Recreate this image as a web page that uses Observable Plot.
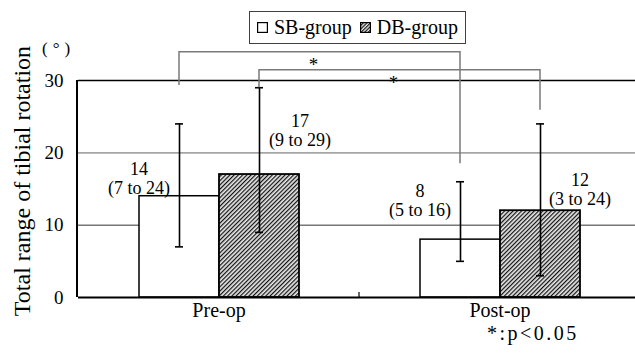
<!DOCTYPE html>
<html><head><meta charset="utf-8">
<script src="https://cdn.jsdelivr.net/npm/d3@7"></script>
<script src="https://cdn.jsdelivr.net/npm/@observablehq/plot@0.6"></script>
<style>
body{margin:0;background:#fff;font-family:'Liberation Serif','Times New Roman',Tinos,'DejaVu Serif',serif;color:#000;}
#wrap{position:relative;width:635px;height:354px;overflow:hidden;}
#wrap svg.plot{position:absolute;left:0;top:0;}
.ov{position:absolute;white-space:nowrap;font-family:'Liberation Serif','Times New Roman',Tinos,'DejaVu Serif',serif;}
#ylab{left:-138px;top:169px;width:320px;height:24px;line-height:24px;font-size:24px;text-align:center;transform:rotate(-90deg);}
#unit{left:42px;top:39px;font-size:17px;letter-spacing:5px;}
#legend{left:249px;top:11px;width:215px;height:31px;border:1.5px solid #404040;display:flex;align-items:center;font-size:20px;background:#fff;}
#legend .sw{display:inline-block;width:11px;height:11px;margin:0 6px 0 7px;}
#foot{left:487px;top:322px;font-size:20px;letter-spacing:2.5px;}
</style></head><body><div id="wrap"></div>
<script>
// ---- data ----
const categories = ["Pre-op", "Post-op"];
const groups = ["SB-group", "DB-group"];
const sbMedian = [14, 8];
const sbLow = [7, 5];
const sbHigh = [24, 16];
const dbMedian = [17, 12];
const dbLow = [9, 3];
const dbHigh = [29, 24];
const yTicks = [0, 10, 20, 30];
// significance brackets (data units)
const brackets = [
  {from: ["Pre-op", "SB-group"], to: ["Post-op", "SB-group"], top: 33.9, leftEnd: 29.3, rightEnd: 18.5, mark: "*"},
  {from: ["Pre-op", "DB-group"], to: ["Post-op", "DB-group"], top: 31.4, leftEnd: 29, rightEnd: 25.9, mark: "*"}
];
const footnote = "*:p<0.05";
const yTitle = "Total range of tibial rotation";
const unitText = "(°)";

const FONT = "'Liberation Serif','Times New Roman',Tinos,'DejaVu Serif',serif";

// ---- layout (pixel offsets for value labels) ----
const labelLayout = [
  {dx: -40.5, dy: -18},
  {dx: 40.5, dy: -44},
  {dx: -40.5, dy: -39},
  {dx: 39.5, dy: -21}
];

const rows = [];
categories.forEach((c, i) => {
  rows.push({cat: c, grp: groups[0], med: sbMedian[i], lo: sbLow[i], hi: sbHigh[i]});
  rows.push({cat: c, grp: groups[1], med: dbMedian[i], lo: dbLow[i], hi: dbHigh[i]});
});

const labelMarks = rows.map((r, i) => Plot.text([r], {
  fx: "cat", x: "grp", y: "med",
  text: d => `${d.med}\n(${d.lo} to ${d.hi})`,
  dx: labelLayout[i].dx, dy: labelLayout[i].dy,
  lineAnchor: "middle", lineHeight: 1.07, fontSize: 18, fill: "#000"
}));

const plot = Plot.plot({
  width: 635, height: 354,
  marginLeft: 77, marginRight: -5, marginTop: 80, marginBottom: 57,
  style: {fontFamily: FONT, fontSize: "19px", color: "#000", background: "transparent", overflow: "visible"},
  fx: {domain: categories, padding: 0, label: null},
  x: {domain: groups, paddingInner: 0, paddingOuter: 0.735, axis: null},
  y: {domain: [0, 30]},
  marks: [
    Plot.ruleY([10], {stroke: "#333", strokeWidth: 1}),
    Plot.ruleY([20], {stroke: "#a6a6a6", strokeWidth: 1.6}),
    Plot.ruleY([30], {stroke: "#000", strokeWidth: 1.4}),
    Plot.barY(rows.filter(d => d.grp === groups[0]), {fx: "cat", x: "grp", y: "med", fill: "#fff", stroke: "#000", strokeWidth: 1.5}),
    Plot.barY(rows.filter(d => d.grp === groups[1]), {fx: "cat", x: "grp", y: "med", fill: "url(#hatch)", stroke: "#000", strokeWidth: 1.8}),
    Plot.ruleX(rows, {fx: "cat", x: "grp", y1: "lo", y2: "hi", stroke: "#000", strokeWidth: 1.6}),
    Plot.tickY(rows, {fx: "cat", x: "grp", y: "lo", insetLeft: 36, insetRight: 36, stroke: "#000", strokeWidth: 1.6}),
    Plot.tickY(rows, {fx: "cat", x: "grp", y: "hi", insetLeft: 36, insetRight: 36, stroke: "#000", strokeWidth: 1.6}),
    Plot.ruleY([0], {stroke: "#000", strokeWidth: 2}),
    ...labelMarks,
    Plot.axisY({ticks: yTicks, tickSize: 0, tickPadding: 15, label: null, fontSize: 19}),
    Plot.axisFx({anchor: "bottom", tickSize: 0, tickPadding: 5, label: null, fontSize: 20})
  ]
});
plot.classList.add("plot");

const svg = d3.select(plot);
svg.insert("defs", ":first-child").html(
  `<pattern id="hatch" width="3" height="3" patternUnits="userSpaceOnUse" patternTransform="rotate(45)">
     <rect width="3" height="3" fill="#e6e6e6"/><rect width="1.2" height="3" fill="#111"/>
   </pattern>`);

const fxS = plot.scale("fx"), xS = plot.scale("x"), yS = plot.scale("y");
const px = (c, g) => fxS.apply(c) + xS.apply(g) - xS.range[0] + xS.bandwidth / 2;

// left axis line and category boundary tick
const left = fxS.range[0];
svg.append("line").attr("x1", left).attr("x2", left).attr("y1", yS.apply(0)).attr("y2", yS.apply(30))
  .attr("stroke", "#000").attr("stroke-width", 2);
categories.slice(1).forEach(c => {
  const bx = fxS.apply(c);
  svg.append("line").attr("x1", bx).attr("x2", bx).attr("y1", yS.apply(0)).attr("y2", yS.apply(0) - 5)
    .attr("stroke", "#000").attr("stroke-width", 1.2);
});

// significance brackets
brackets.forEach(b => {
  const xl = px(...b.from), xr = px(...b.to), yt = yS.apply(b.top);
  svg.append("path")
    .attr("d", `M${xl},${yS.apply(b.leftEnd)}V${yt}H${xr}V${yS.apply(b.rightEnd)}`)
    .attr("fill", "none").attr("stroke", "#7a7a7a").attr("stroke-width", 1.5);
  svg.append("text").attr("x", (xl + xr) / 2 - 6).attr("y", yt + 19)
    .attr("text-anchor", "middle").attr("font-size", 19).attr("font-family", FONT)
    .text(b.mark);
});

const wrap = document.getElementById("wrap");
wrap.appendChild(plot);

const mk = (id, txt) => { const d = document.createElement("div"); d.className = "ov"; d.id = id; if (txt != null) d.textContent = txt; wrap.appendChild(d); return d; };
mk("ylab", yTitle);
mk("unit", unitText);
mk("foot", footnote);
const lg = mk("legend");
lg.innerHTML =
  `<svg class="sw" viewBox="0 0 11 11"><rect x="0.6" y="0.6" width="9.8" height="9.8" fill="#fff" stroke="#000" stroke-width="1.2"/></svg><span></span>` +
  `<svg class="sw" viewBox="0 0 11 11" style="margin-left:8px"><defs><pattern id="hatchL" width="2.5" height="2.5" patternUnits="userSpaceOnUse" patternTransform="rotate(45)"><rect width="2.5" height="2.5" fill="#e6e6e6"/><rect width="1.1" height="2.5" fill="#111"/></pattern></defs><rect x="0.6" y="0.6" width="9.8" height="9.8" fill="url(#hatchL)" stroke="#000" stroke-width="1.2"/></svg><span></span>`;
const spans = lg.querySelectorAll("span");
spans[0].textContent = groups[0];
spans[1].textContent = groups[1];
</script></body></html>
